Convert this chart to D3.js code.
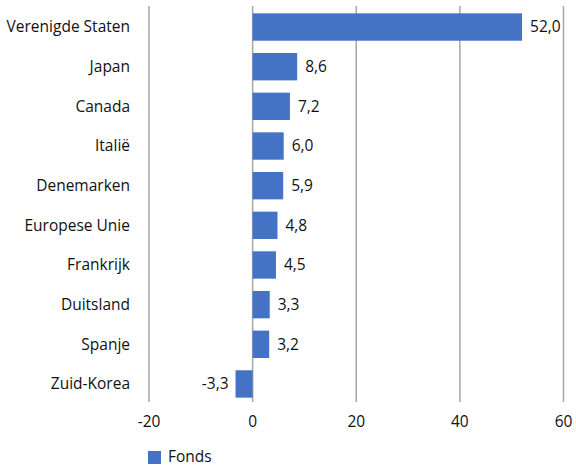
<!DOCTYPE html>
<html><head><meta charset="utf-8">
<script src="https://cdn.jsdelivr.net/npm/d3@7"></script>
<style>body{margin:0;background:#fff;} text{font-family:"Open Sans",sans-serif;}</style>
</head><body><svg id="c" width="576" height="468"></svg>
<script>
const categories = ["Verenigde Staten","Japan","Canada","Italië","Denemarken","Europese Unie","Frankrijk","Duitsland","Spanje","Zuid-Korea"];
const values = [52.0,8.6,7.2,6.0,5.9,4.8,4.5,3.3,3.2,-3.3];
const ticks = [-20,0,20,40,60];
const seriesName = "Fonds";

const svg = d3.select("#c");
const x = d3.scaleLinear().domain([-20,60]).range([149,563.5]);
const y = d3.scaleBand().domain(categories).range([7,404]).paddingInner(0.31).paddingOuter(0.16);
const color = "#4472C4";
const fmt = v => v.toFixed(1).replace(".", ",");
const fs = 15.5, tc = "#111";

svg.append("g").selectAll("line").data(ticks).join("line")
  .attr("x1",d=>x(d)).attr("x2",d=>x(d)).attr("y1",6).attr("y2",402)
  .attr("stroke","#a6a6a6").attr("stroke-width",1.5);

svg.append("g").selectAll("text").data(ticks).join("text")
  .attr("x",d=>x(d)).attr("y",427).attr("text-anchor","middle")
  .attr("font-size",fs).attr("fill",tc).text(d=>d);

svg.append("g").selectAll("rect").data(values).join("rect")
  .attr("x",d=>x(Math.min(0,d))).attr("width",d=>Math.abs(x(d)-x(0)))
  .attr("y",(d,i)=>y(categories[i])).attr("height",y.bandwidth())
  .attr("fill",color);

svg.append("g").selectAll("text").data(values).join("text")
  .attr("x",d=> d>=0 ? x(d)+8 : x(d)-7)
  .attr("text-anchor",d=> d>=0 ? "start":"end")
  .attr("y",(d,i)=>y(categories[i])+y.bandwidth()/2).attr("dy","0.35em")
  .attr("font-size",fs).attr("fill",tc).text(fmt);

svg.append("g").selectAll("text").data(categories).join("text")
  .attr("x",130).attr("text-anchor","end")
  .attr("y",d=>y(d)+y.bandwidth()/2).attr("dy","0.35em")
  .attr("font-size",fs).attr("fill",tc).text(d=>d);

const lg = svg.append("g");
lg.append("rect").attr("x",148).attr("y",451).attr("width",13).attr("height",13).attr("fill",color);
lg.append("text").attr("x",168).attr("y",462).attr("font-size",fs).attr("fill",tc).text(seriesName);
</script></body></html>
